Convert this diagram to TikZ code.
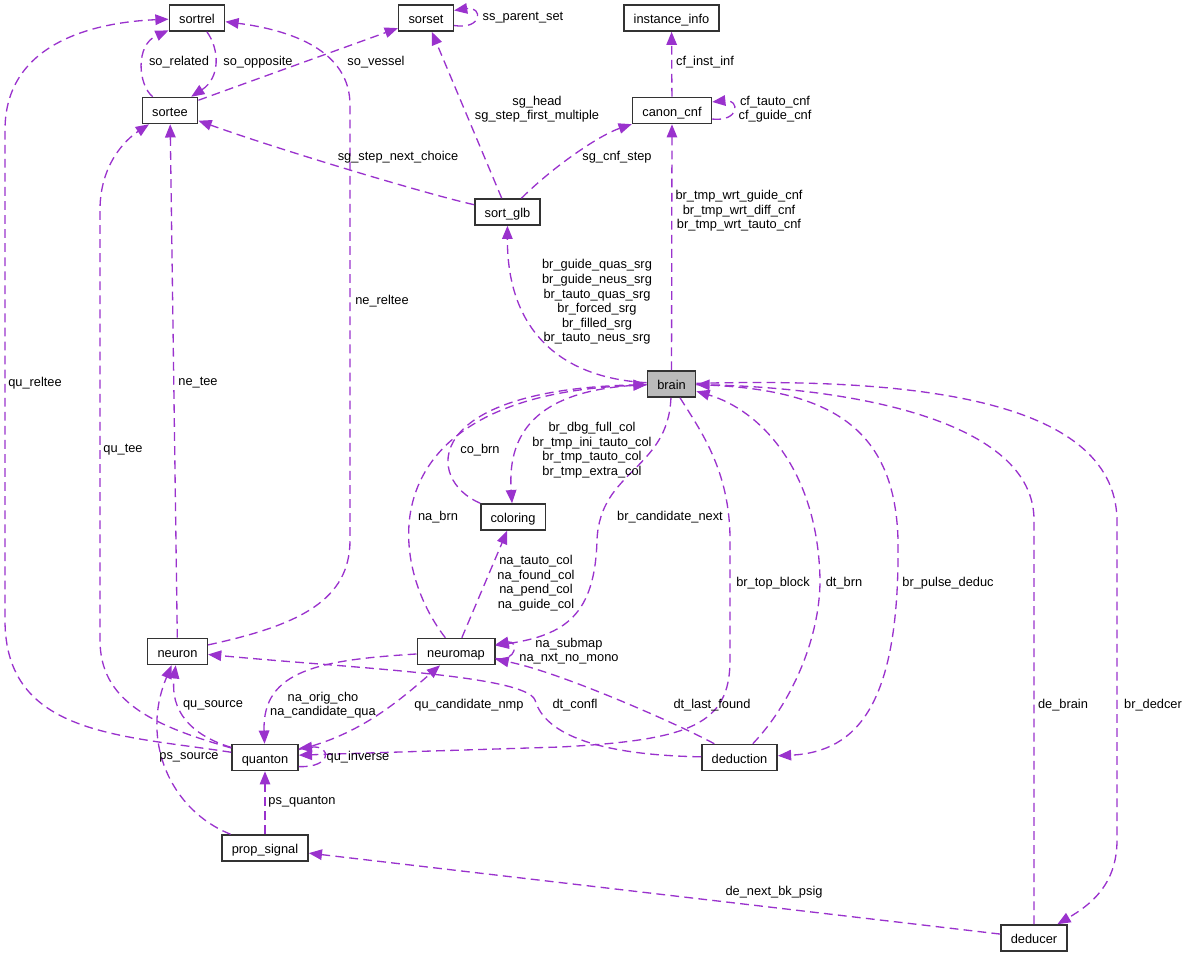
\documentclass[tikz,border=0pt]{standalone}
\usepackage{fontspec}
\setmainfont{Liberation Sans}
\usepackage{xcolor}
\usetikzlibrary{arrows.meta}

\definecolor{membcol}{RGB}{154,50,205}

\begin{document}
\begin{tikzpicture}[
  x=0.02cm, y=-0.02cm,
  cls/.style={draw=black!80, line width=0.9pt, fill=white, minimum height=0.52cm, inner xsep=5.6pt, inner ysep=0pt, text height=1.55ex, text depth=0.35ex, font=\fontsize{7.3}{8.3}\selectfont},
  cur/.style={cls, fill=black!27},
  lbl/.style={inner sep=0pt, align=center, font=\fontsize{7.3}{8.3}\selectfont},
  memb/.style={draw=membcol, line width=0.75pt, dash pattern=on 5pt off 3pt, -{Triangle[length=7.5pt, width=6pt]}}
]
  \useasboundingbox (0,0) rectangle (1185,957);

  % Classes
  \node[cls] (srel) at (197,18) {sortrel};
  \node[cls] (sset) at (426,18) {sorset};
  \node[cls] (inst) at (671.5,18) {instance\_info};
  \node[cls] (stee) at (170,110.5) {sortee};
  \node[cls] (cnf) at (672,110.5) {canon\_cnf};
  \node[cls] (sglb) at (507.5,212) {sort\_glb};
  \node[cur] (brain) at (671.5,384) {brain};
  \node[cls] (col) at (513,517) {coloring};
  \node[cls] (neuron) at (177.5,651.5) {neuron};
  \node[cls] (nmap) at (456,651.5) {neuromap};
  \node[cls] (qua) at (265,757.5) {quanton};
  \node[cls] (ded) at (739.5,757.5) {deduction};
  \node[cls] (psig) at (265,848) {prop\_signal};
  \node[cls] (dcer) at (1034,938) {deducer};

  % Sorts
  \draw[memb] (stee) .. controls (138,85) and (135,45) .. (srel);
  \draw[memb] (srel) .. controls (220,50) and (220,78) .. (stee);
  \draw[memb] (stee) -- (sset);
  \draw[memb] (sset.-15) .. controls (483,30) and (483,6) .. (sset.15);
  \draw[memb] (neuron) .. controls (300,625) and (350,600) .. (350,540) -- (350,105) .. controls (350,50) and (290,30) .. (srel);
  \draw[memb] (qua) .. controls (120,735) and (5,735) .. (5,620) -- (5,130) .. controls (5,40) and (100,22) .. (srel);
  \draw[memb] (qua) .. controls (150,725) and (100,700) .. (100,640) -- (100,210) .. controls (100,165) and (125,140) .. (stee);
  \draw[memb] (neuron) -- (stee);
  \draw[memb] (sglb) .. controls (430,195) and (280,150) .. (stee);
  \draw[memb] (sglb) -- (sset);
  \draw[memb] (sglb) .. controls (555,165) and (600,135) .. (cnf);

  % Canon cnf
  \draw[memb] (cnf) -- (inst);
  \draw[memb] (cnf.-12) .. controls (740,122) and (740,99) .. (cnf.12);
  \draw[memb] (brain) -- (cnf);
  \draw[memb] (brain) .. controls (560,378) and (507,330) .. (sglb);

  % Brain and coloring
  \draw[memb] (col) .. controls (425,480) and (420,390) .. (brain);
  \draw[memb] (brain) .. controls (540,388) and (507,430) .. (col);
  \draw[memb] (nmap) .. controls (385,560) and (370,395) .. (brain);
  \draw[memb] (nmap) -- (col);

  % Neuromap
  \draw[memb] (brain) .. controls (668,470) and (600,470) .. (597,540) .. controls (595,615) and (565,635) .. (nmap);
  \draw[memb] (nmap.-10) .. controls (518,662) and (518,640) .. (nmap.10);
  \draw[memb] (ded) .. controls (680,725) and (560,672) .. (nmap);
  \draw[memb] (ded) .. controls (600,755) and (545,735) .. (535,700) .. controls (525,675) and (350,668) .. (neuron);

  % Deduction and deducer
  \draw[memb] (brain) .. controls (700,430) and (730,470) .. (730,540) -- (730,660) .. controls (730,725) and (690,740) .. (560,747) -- (qua.4);
  \draw[memb] (ded) .. controls (790,705) and (820,640) .. (820,580) .. controls (818,470) and (760,410) .. (brain);
  \draw[memb] (brain) .. controls (820,388) and (895,420) .. (898,540) .. controls (900,700) and (860,752) .. (ded);
  \draw[memb] (dcer) -- (1034,520) .. controls (1034,420) and (850,388) .. (brain);
  \draw[memb] (brain) .. controls (900,378) and (1115,395) .. (1117,520) -- (1117,840) .. controls (1117,885) and (1090,905) .. (dcer);

  % Quanton
  \draw[memb] (qua) .. controls (360,735) and (400,700) .. (nmap);
  \draw[memb] (nmap) .. controls (320,660) and (262,670) .. (qua);
  \draw[memb] (qua) .. controls (190,735) and (170,710) .. (neuron);
  \draw[memb] (psig) .. controls (170,810) and (140,740) .. (neuron);
  \draw[memb] (psig) -- (qua);
  \draw[memb] (qua.-15) .. controls (332,768) and (332,745) .. (qua.15);
  \draw[memb] (dcer) -- (psig);

  % Member names
  \node[lbl] (l-sorel) at (179,62) {so\_related};
  \node[lbl] (l-soopp) at (258,62) {so\_opposite};
  \node[lbl] (l-sovess) at (376,62) {so\_vessel};
  \node[lbl] (l-sspar) at (523,18) {ss\_parent\_set};
  \node[lbl] (l-cfinst) at (705,62) {cf\_inst\_inf};
  \node[lbl] (l-sghead) at (537,109) {sg\_head\\sg\_step\_first\_multiple};
  \node[lbl] (l-sgcnf) at (617,157) {sg\_cnf\_step};
  \node[lbl] (l-sgnext) at (398,157) {sg\_step\_next\_choice};
  \node[lbl] (l-cfloop) at (775,109) {cf\_tauto\_cnf\\cf\_guide\_cnf};
  \node[lbl] (l-brcnf) at (739,211) {br\_tmp\_wrt\_guide\_cnf\\br\_tmp\_wrt\_diff\_cnf\\br\_tmp\_wrt\_tauto\_cnf};
  \node[lbl] (l-brsrg) at (597,302) {br\_guide\_quas\_srg\\br\_guide\_neus\_srg\\br\_tauto\_quas\_srg\\br\_forced\_srg\\br\_filled\_srg\\br\_tauto\_neus\_srg};
  \node[lbl] (l-nereltee) at (382,301) {ne\_reltee};
  \node[lbl] (l-qureltee) at (35,383) {qu\_reltee};
  \node[lbl] (l-netee) at (198,383) {ne\_tee};
  \node[lbl] (l-qutee) at (123,450) {qu\_tee};
  \node[lbl] (l-cobrn) at (480,450) {co\_brn};
  \node[lbl] (l-brcol) at (592,450) {br\_dbg\_full\_col\\br\_tmp\_ini\_tauto\_col\\br\_tmp\_tauto\_col\\br\_tmp\_extra\_col};
  \node[lbl] (l-nabrn) at (438,517) {na\_brn};
  \node[lbl] (l-brnext) at (670,517) {br\_candidate\_next};
  \node[lbl] (l-nacol) at (536,583) {na\_tauto\_col\\na\_found\_col\\na\_pend\_col\\na\_guide\_col};
  \node[lbl] (l-brtop) at (773,583) {br\_top\_block};
  \node[lbl] (l-dtbrn) at (844,583) {dt\_brn};
  \node[lbl] (l-brpulse) at (948,583) {br\_pulse\_deduc};
  \node[lbl] (l-naloop) at (569,651) {na\_submap\\na\_nxt\_no\_mono};
  \node[lbl] (l-qusrc) at (213,705) {qu\_source};
  \node[lbl] (l-naorig) at (323,705) {na\_orig\_cho\\na\_candidate\_qua};
  \node[lbl] (l-qunmp) at (469,705) {qu\_candidate\_nmp};
  \node[lbl] (l-dtconfl) at (575,705) {dt\_confl};
  \node[lbl] (l-dtlast) at (712,705) {dt\_last\_found};
  \node[lbl] (l-debrain) at (1063,705) {de\_brain};
  \node[lbl] (l-brdedcer) at (1153,705) {br\_dedcer};
  \node[lbl] (l-pssrc) at (189,757) {ps\_source};
  \node[lbl] (l-quinv) at (358,757) {qu\_inverse};
  \node[lbl] (l-psqua) at (302,802) {ps\_quanton};
  \node[lbl] (l-denext) at (774,892) {de\_next\_bk\_psig};
\end{tikzpicture}
\end{document}
